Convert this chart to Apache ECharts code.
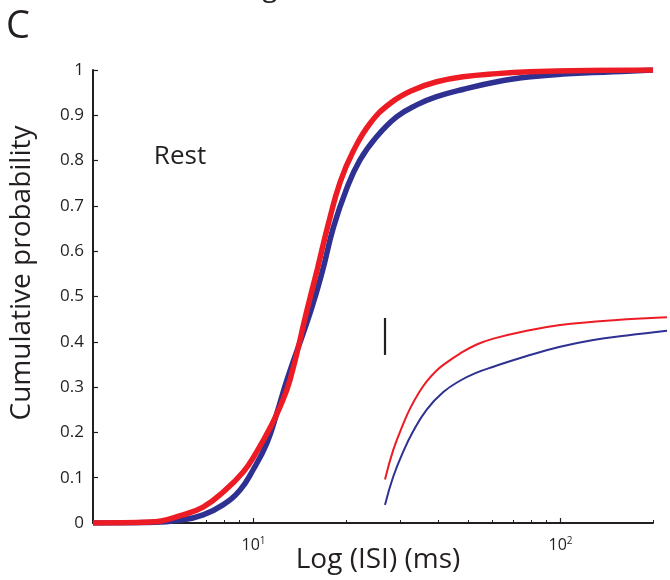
<!DOCTYPE html>
<html><head><meta charset="utf-8">
<script src="https://cdn.jsdelivr.net/npm/echarts@6/dist/echarts.min.js"></script>
<style>html,body{margin:0;padding:0;background:#fff}#c{width:670px;height:580px}</style>
</head><body><div id="c"></div>
<script>
// Main CDF curves (ISI in ms, cumulative probability)
const restRedX = [3, 4.6, 5.89, 6.85, 7.95, 9.24, 10.26, 11.32, 12.19, 13.15, 14.93, 16.13, 17.52, 19.13, 21.13, 23.95, 27.83, 33.15, 39.5, 48.1, 62, 79.5, 120, 200];
const restRedY = [0, 0.002, 0.018, 0.035, 0.068, 0.112, 0.158, 0.21, 0.256, 0.316, 0.47, 0.56, 0.66, 0.752, 0.821, 0.882, 0.926, 0.956, 0.974, 0.985, 0.992, 0.996, 0.999, 1.0];
const restBlueX = [3, 4.6, 5.89, 6.85, 7.95, 9.04, 9.96, 11.06, 11.92, 12.85, 15.39, 16.75, 18.19, 20.1, 22.2, 25.2, 29.3, 34.0, 39.5, 48, 62.1, 80, 101.8, 148, 200];
const restBlueY = [0, 0.001, 0.007, 0.018, 0.04, 0.073, 0.117, 0.177, 0.243, 0.316, 0.47, 0.555, 0.652, 0.738, 0.801, 0.853, 0.897, 0.923, 0.941, 0.957, 0.974, 0.985, 0.991, 0.996, 1.0];
// Inset (magnified tail)
const insetRedX = [26.8, 28.5, 30.7, 32.3, 34.5, 36.7, 39.1, 41.5, 47.0, 53.3, 60.4, 77.6, 99.6, 127.8, 164.2, 222];
const insetRedY = [0.096, 0.161, 0.218, 0.252, 0.287, 0.313, 0.334, 0.349, 0.374, 0.394, 0.407, 0.4245, 0.437, 0.444, 0.4497, 0.454];
const insetBlueX = [26.8, 28.5, 30.7, 33.2, 36.7, 41.5, 47.0, 53.3, 60.4, 77.6, 99.6, 127.8, 164.2, 222];
const insetBlueY = [0.04, 0.102, 0.157, 0.204, 0.251, 0.289, 0.314, 0.332, 0.345, 0.3687, 0.389, 0.404, 0.414, 0.4245];
const scaleBarX = 26.8;
const scaleBarY = [0.371, 0.4525];
// Axis ticks
const yTicks = [0, 0.1, 0.2, 0.3, 0.4, 0.5, 0.6, 0.7, 0.8, 0.9, 1];
const xMinorTicks = [3, 4, 5, 6, 7, 8, 9, 20, 30, 40, 50, 60, 70, 80, 90, 200];
const xMajorTicks = [10, 100];

const zip = (a, b) => a.map((v, i) => [v, b[i]]);
const RED = '#ED1C24', BLUE = '#2E3192', INK = '#231F20';
const FONT = 'Open Sans';

const chart = echarts.init(document.getElementById('c'), null, {renderer: 'canvas'});
chart.setOption({
  animation: false,
  backgroundColor: '#fff',
  textStyle: {fontFamily: FONT, color: INK},
  grid: [
    {left: 93, right: 17, top: 70, bottom: 57},
    {left: 385, right: 3, top: 70, bottom: 57}
  ],
  xAxis: [
    {type: 'log', logBase: 10, min: 3, max: 200, gridIndex: 0,
     axisLine: {show: true, lineStyle: {color: INK, width: 2}},
     axisTick: {show: true, inside: true, length: 3, customValues: xMinorTicks, lineStyle: {color: INK, width: 1}},
     axisLabel: {show: false}, splitLine: {show: false}},
    {type: 'log', logBase: 10, min: 3, max: 200, gridIndex: 0, position: 'bottom',
     axisLine: {show: false},
     axisTick: {show: true, inside: true, length: 5, customValues: xMajorTicks, lineStyle: {color: INK, width: 1.2}},
     axisLabel: {show: true, customValues: xMajorTicks, margin: 13,
       formatter: v => '{b|10}{s|' + Math.round(Math.log10(v)) + '}',
       rich: {b: {fontSize: 16, fontFamily: FONT, color: INK},
              s: {fontSize: 10, fontFamily: FONT, color: INK, padding: [0, 0, 8, 0]}}},
     splitLine: {show: false}},
    {type: 'log', logBase: 10, min: 26.8, max: 222, gridIndex: 1, show: false}
  ],
  yAxis: [
    {type: 'value', min: 0, max: 1, interval: 0.1, gridIndex: 0,
     axisLine: {show: true, lineStyle: {color: INK, width: 2}},
     axisTick: {show: true, inside: true, length: 5, lineStyle: {color: INK, width: 1.2}},
     axisLabel: {fontSize: 17, color: INK, fontFamily: FONT, margin: 9,
       formatter: v => String(Math.round(v * 10) / 10)},
     splitLine: {show: false}},
    {type: 'value', min: 0, max: 1, gridIndex: 1, show: false}
  ],
  series: [
    {type: 'line', xAxisIndex: 0, yAxisIndex: 0, data: zip(restBlueX, restBlueY),
     smooth: 0.45, showSymbol: false, symbol: 'none',
     lineStyle: {color: BLUE, width: 5.5, cap: 'butt'}},
    {type: 'line', xAxisIndex: 0, yAxisIndex: 0, data: zip(restRedX, restRedY),
     smooth: 0.45, showSymbol: false, symbol: 'none',
     lineStyle: {color: RED, width: 5.5, cap: 'butt'}},
    {type: 'line', xAxisIndex: 2, yAxisIndex: 1, data: zip(insetBlueX, insetBlueY),
     smooth: 0.45, showSymbol: false, symbol: 'none', clip: false,
     lineStyle: {color: BLUE, width: 2},
     markLine: {silent: true, symbol: 'none', label: {show: false},
       lineStyle: {color: INK, width: 2.2, type: 'solid'},
       data: [[{coord: [scaleBarX, scaleBarY[0]]}, {coord: [scaleBarX, scaleBarY[1]]}]]}},
    {type: 'line', xAxisIndex: 2, yAxisIndex: 1, data: zip(insetRedX, insetRedY),
     smooth: 0.45, showSymbol: false, symbol: 'none', clip: false,
     lineStyle: {color: RED, width: 2}}
  ],
  graphic: [
    {type: 'text', left: 6, top: 8, style: {text: 'C', fontSize: 38, fontFamily: FONT, fill: INK}},
    {type: 'text', x: 313, y: -26, style: {text: 'Log (ISI) (ms)', fontSize: 28, fontFamily: FONT, fill: INK, align: 'center', verticalAlign: 'top'}},
    {type: 'text', x: 180, y: 157, style: {text: 'Rest', fontSize: 26, fontFamily: FONT, fill: INK, align: 'center', verticalAlign: 'middle'}},
    {type: 'text', x: 378, y: 560, style: {text: 'Log (ISI) (ms)', fontSize: 28, fontFamily: FONT, fill: INK, align: 'center', verticalAlign: 'middle'}},
    {type: 'text', x: 22, y: 273, rotation: Math.PI / 2, style: {text: 'Cumulative probability', fontSize: 28, fontFamily: FONT, fill: INK, align: 'center', verticalAlign: 'middle'}}
  ]
});
</script>
</body></html>
